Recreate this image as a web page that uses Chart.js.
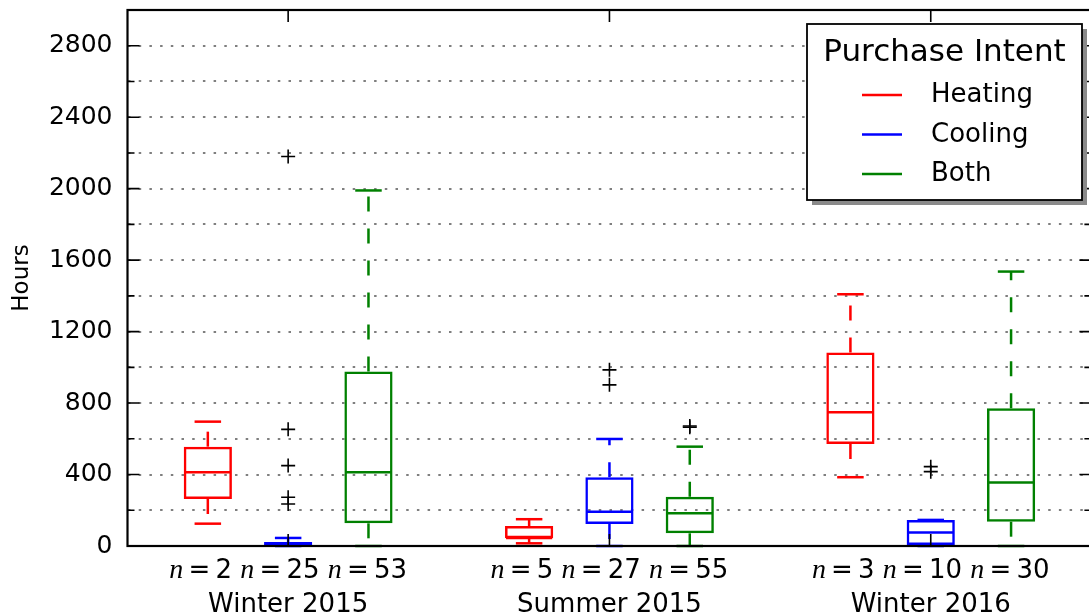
<!DOCTYPE html>
<html><head><meta charset="utf-8">
<script src="https://cdn.jsdelivr.net/npm/chart.js@4/dist/chart.umd.min.js"></script>
<style>
html,body{margin:0;padding:0;background:#fff;overflow:hidden;width:1089px;height:616px}
#wrap{width:1100px;height:616px;position:relative}
</style></head><body><div id="wrap"><canvas id="c"></canvas></div>
<script>
// ---- data ----
const seasons = ['Winter 2015', 'Summer 2015', 'Winter 2016'];
const seriesNames = ['Heating', 'Cooling', 'Both'];
const seriesColors = ['#ff0000', '#0000ff', '#008000'];
const heatingN = [2, 5, 3];
const coolingN = [25, 27, 10];
const bothN = [53, 55, 30];
// [lower whisker, Q1, median, Q3, upper whisker] per season
const heatingBox = [[125, 263, 413, 556, 696], [15, 43, 45, 112, 150], [385, 571, 749, 1083, 1409]];
const coolingBox = [[0, 0, 5, 22, 45], [0, 123, 192, 385, 599], [0, 0, 75, 146, 146]];
const bothBox = [[0, 127, 413, 976, 1990], [0, 71, 183, 276, 556], [0, 136, 355, 771, 1536]];
const heatingOut = [[], [], []];
const coolingOut = [[2180, 653, 450, 273, 235], [986, 902], [444, 416]];
const bothOut = [[], [665, 672], []];
const yMin = 0, yMax = 3000, yStep = 200, yLabelStep = 400;

const boxes = [heatingBox, coolingBox, bothBox];
const outs = [heatingOut, coolingOut, bothOut];
const counts = [heatingN, coolingN, bothN];
const pos = (i, j) => 4 * i + j + 1;           // slot on the x axis
const groupCenter = i => 4 * i + 2;
const BOX_W = 0.6, CAP_W = 0.33;
const LW = 2.5;

const FONT = '"DejaVu Sans"';

const barSets = boxes.map((b, j) => ({
  type: 'bar',
  label: seriesNames[j],
  data: seasons.map((s, i) => ({ x: pos(i, j), y: [b[i][1], b[i][3]] })),
  borderColor: seriesColors[j],
  backgroundColor: 'rgba(0,0,0,0)',
  borderWidth: LW,
  borderSkipped: false,
  grouped: false,
  categoryPercentage: 1,
  barPercentage: BOX_W,
  order: 2
}));
const outlierPts = [];
outs.forEach((o, j) => o.forEach((vals, i) => vals.forEach(v => outlierPts.push({ x: pos(i, j), y: v }))));
const outSet = {
  type: 'scatter', label: 'outliers', data: outlierPts,
  pointStyle: 'cross', radius: 7, borderColor: '#000', borderWidth: 1.6,
  backgroundColor: '#000', order: 1
};

const boxPlugin = {
  id: 'whiskers',
  afterDatasetsDraw(chart) {
    const { ctx } = chart; const x = chart.scales.x, y = chart.scales.y;
    ctx.save();
    ctx.lineWidth = LW;
    boxes.forEach((b, j) => b.forEach((s, i) => {
      const p = pos(i, j);
      const [lo, q1, med, q3, hi] = s;
      ctx.strokeStyle = seriesColors[j];
      const cx = x.getPixelForValue(p);
      ctx.setLineDash([15, 17]);
      if (hi > q3) { ctx.beginPath(); ctx.moveTo(cx, y.getPixelForValue(q3)); ctx.lineTo(cx, y.getPixelForValue(hi)); ctx.stroke(); }
      if (lo < q1) { ctx.beginPath(); ctx.moveTo(cx, y.getPixelForValue(q1)); ctx.lineTo(cx, y.getPixelForValue(lo)); ctx.stroke(); }
      ctx.setLineDash([]);
      const c0 = x.getPixelForValue(p - CAP_W / 2), c1 = x.getPixelForValue(p + CAP_W / 2);
      [lo, hi].forEach(v => { const py = y.getPixelForValue(v); ctx.beginPath(); ctx.moveTo(c0, py); ctx.lineTo(c1, py); ctx.stroke(); });
      const m0 = x.getPixelForValue(p - BOX_W / 2) + 1, m1 = x.getPixelForValue(p + BOX_W / 2) - 1;
      const my = y.getPixelForValue(med);
      ctx.beginPath(); ctx.moveTo(m0, my); ctx.lineTo(m1, my); ctx.stroke();
    }));
    ctx.restore();
  },
  afterDraw(chart) {
    const { ctx, chartArea: a } = chart; const x = chart.scales.x, y = chart.scales.y;
    ctx.save();
    ctx.strokeStyle = '#000'; ctx.lineWidth = 2.2;
    ctx.strokeRect(a.left, a.top, a.right - a.left, a.bottom - a.top);
    ctx.lineWidth = 1.6;
    for (let v = yMin; v <= yMax; v += yStep) {
      const py = y.getPixelForValue(v);
      const len = v % yLabelStep === 0 ? 12 : 7;
      ctx.beginPath();
      ctx.moveTo(a.left, py); ctx.lineTo(a.left + len, py);
      ctx.moveTo(a.right, py); ctx.lineTo(a.right - len, py);
      ctx.stroke();
    }
    seasons.forEach((s, i) => {
      const px = x.getPixelForValue(groupCenter(i));
      ctx.beginPath();
      ctx.moveTo(px, a.bottom); ctx.lineTo(px, a.bottom - 12);
      ctx.moveTo(px, a.top); ctx.lineTo(px, a.top + 12);
      ctx.stroke();
    });
    // x labels
    ctx.fillStyle = '#000';
    ctx.textBaseline = 'alphabetic';
    const fN = 'italic 28px "Liberation Serif"', fR = '26px ' + FONT;
    seasons.forEach((s, i) => {
      const px = x.getPixelForValue(groupCenter(i));
      const pieces = [];
      counts.forEach((c, j) => {
        if (j > 0) pieces.push([fR, ' ']);
        pieces.push([fN, 'n']);
        pieces.push([fR, '\u2009=\u2009' + c[i]]);
      });
      let total = 0;
      pieces.forEach(pc => { ctx.font = pc[0]; pc.push(ctx.measureText(pc[1]).width); total += pc[2]; });
      let cx = px - total / 2;
      ctx.textAlign = 'left';
      pieces.forEach(pc => { ctx.font = pc[0]; ctx.fillText(pc[1], cx, 578); cx += pc[2]; });
      ctx.font = fR; ctx.textAlign = 'center';
      ctx.fillText(s, px, 612);
    });
    // legend
    const L = { x: 807, y: 24, w: 275, h: 176 };
    ctx.fillStyle = '#8a8a8a';
    ctx.fillRect(L.x + 5, L.y + 5, L.w, L.h);
    ctx.fillStyle = '#fff';
    ctx.fillRect(L.x, L.y, L.w, L.h);
    ctx.strokeStyle = '#000'; ctx.lineWidth = 1.8;
    ctx.strokeRect(L.x, L.y, L.w, L.h);
    ctx.fillStyle = '#000'; ctx.font = '31px ' + FONT; ctx.textAlign = 'center';
    ctx.fillText('Purchase Intent', L.x + L.w / 2, 61);
    ctx.font = '26px ' + FONT; ctx.textAlign = 'left'; ctx.lineWidth = 2.5;
    seriesNames.forEach((n, j) => {
      const ly = 95 + 39.5 * j;
      ctx.strokeStyle = seriesColors[j];
      ctx.beginPath(); ctx.moveTo(862, ly); ctx.lineTo(902, ly); ctx.stroke();
      ctx.fillText(n, 931, ly + 7);
    });
    ctx.restore();
  }
};

new Chart(document.getElementById('c'), {
  type: 'scatter',
  data: { datasets: [...barSets, outSet] },
  options: {
    responsive: true, maintainAspectRatio: false, animation: false,
    layout: { padding: { left: 0, top: 10, right: 5.3, bottom: 0 } },
    plugins: { legend: { display: false }, tooltip: { enabled: false } },
    scales: {
      x: {
        type: 'linear', min: 0, max: 12, offset: false,
        ticks: { display: false, stepSize: 2 },
        grid: { display: false }, border: { display: false },
        afterFit(s) { s.height = 70; s.paddingLeft = 0; s.paddingRight = 0; }
      },
      y: {
        type: 'linear', min: yMin, max: yMax,
        ticks: {
          stepSize: yStep, color: '#000', padding: 15,
          font: { family: 'DejaVu Sans', size: 25 },
          callback: v => (v % yLabelStep === 0 ? String(v) : '')
        },
        grid: {
          drawTicks: false, lineWidth: 2,
          color: c => (c.tick && (c.tick.value === yMin || c.tick.value === yMax)) ? 'rgba(0,0,0,0)' : 'rgba(0,0,0,0.5)'
        },
        border: { display: false, dash: [2.5, 8.2] },
        title: { display: true, text: 'Hours', color: '#000', font: { family: 'DejaVu Sans', size: 23 }, padding: { top: 8, bottom: 0 } },
        afterFit(s) { s.width = 127.5; s.paddingTop = 0; s.paddingBottom = 0; }
      }
    }
  },
  plugins: [boxPlugin]
});
</script></body></html>
